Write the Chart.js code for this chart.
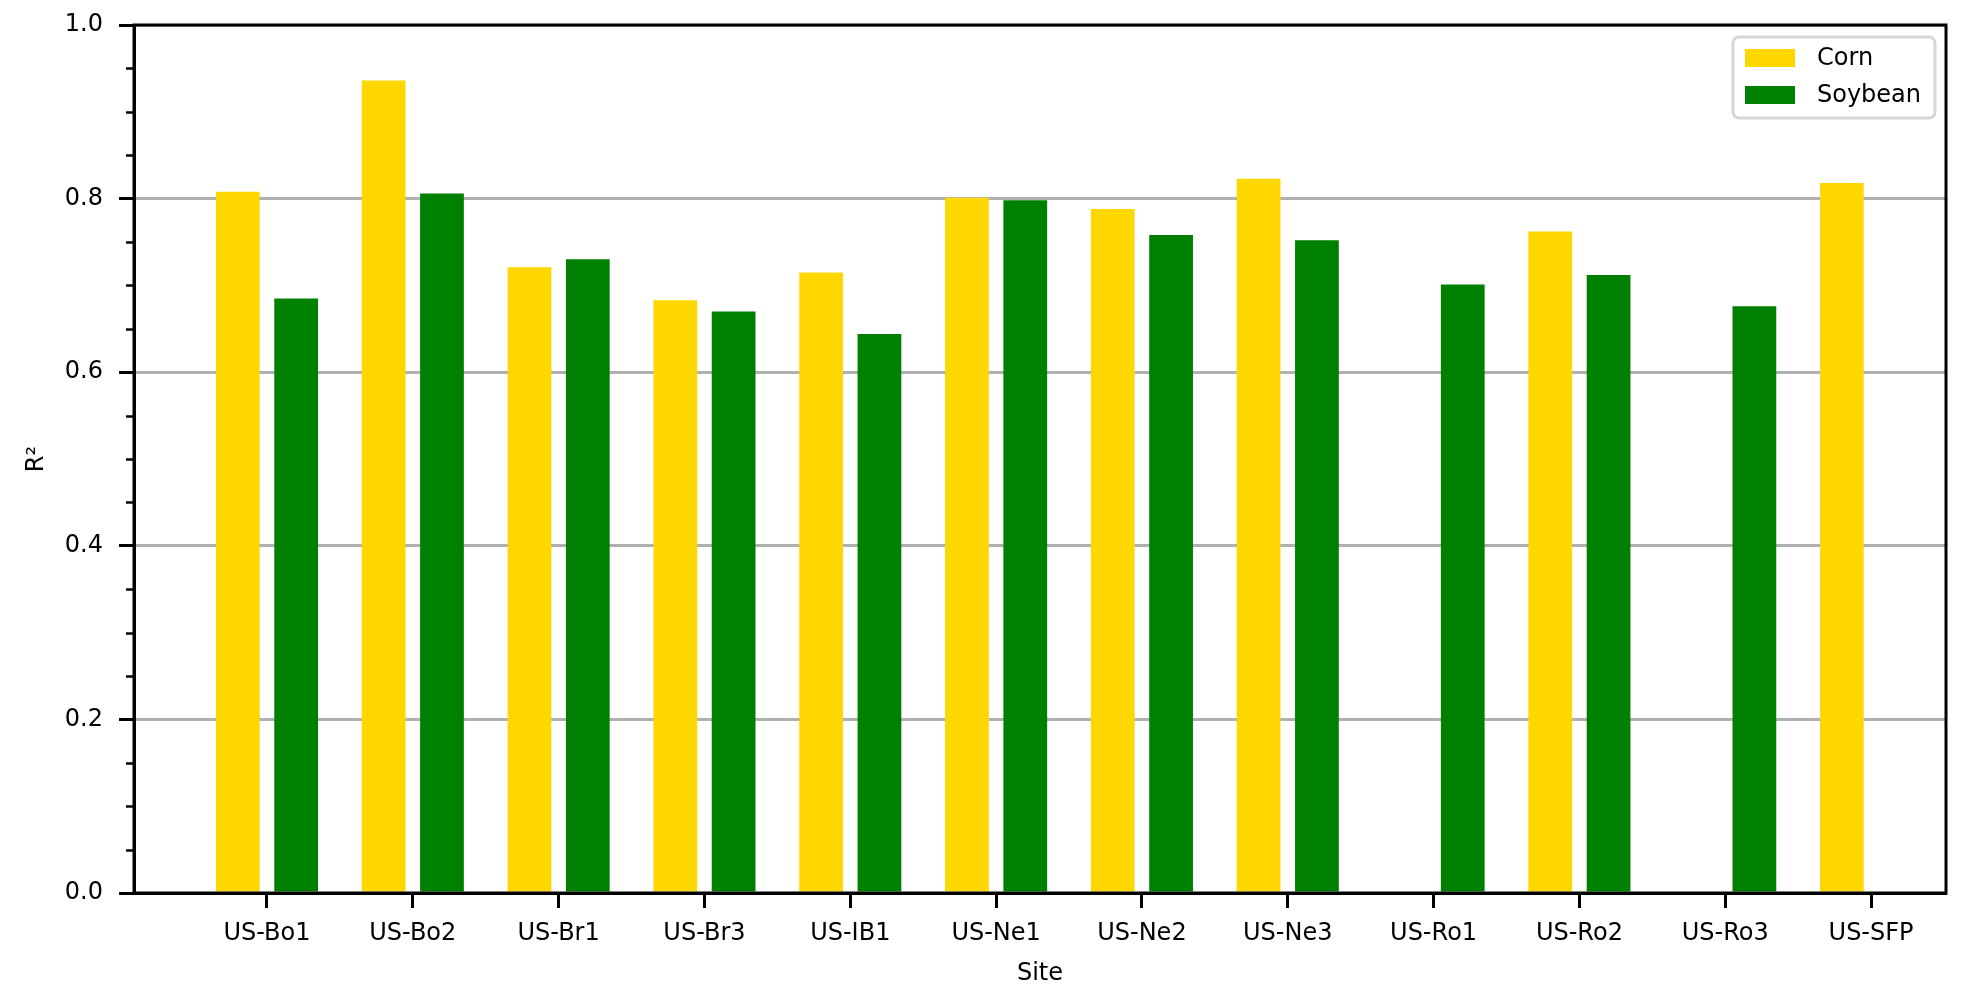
<!DOCTYPE html>
<html>
<head>
<meta charset="utf-8">
<title>R2 by site</title>
<script src="https://cdn.jsdelivr.net/npm/chart.js@4.4.1/dist/chart.umd.min.js"></script>
<style>
  html, body { margin: 0; padding: 0; background: #fff; }
  #wrap { width: 1967px; height: 1000px; }
</style>
</head>
<body>
<div id="wrap"><canvas id="r2Chart" width="1967" height="1000"></canvas></div>
<script>
// datos
const sites = ['US-Bo1', 'US-Bo2', 'US-Br1', 'US-Br3', 'US-IB1', 'US-Ne1', 'US-Ne2', 'US-Ne3', 'US-Ro1', 'US-Ro2', 'US-Ro3', 'US-SFP'];
const cornR2 = [0.808, 0.936, 0.721, 0.683, 0.715, 0.801, 0.788, 0.823, null, 0.762, null, 0.818];
const soybeanR2 = [0.685, 0.806, 0.730, 0.670, 0.644, 0.798, 0.758, 0.752, 0.701, 0.712, 0.676, null];
const yTicks = [0.0, 0.2, 0.4, 0.6, 0.8, 1.0];
const yMinorStep = 0.05;

Chart.defaults.font.family = "'DejaVu Sans', sans-serif";
Chart.defaults.font.size = 24;
Chart.defaults.color = '#000';

function toPoints(values) {
  return values.map((v, i) => ({ x: i, y: v }));
}

// marco, ticks menores y leyenda dentro del área
const extrasPlugin = {
  id: 'extras',
  afterDraw(chart) {
    const { ctx, chartArea: a } = chart;
    const y = chart.scales.y;
    ctx.save();

    // ticks menores
    ctx.strokeStyle = '#000';
    ctx.lineWidth = 2.5;
    for (let k = 0; k <= Math.round(1 / yMinorStep); k++) {
      const v = k * yMinorStep;
      if (yTicks.some(t => Math.abs(t - v) < 1e-6)) continue;
      const py = Math.round(y.getPixelForValue(v)) + 0.5;
      ctx.beginPath();
      ctx.moveTo(a.left - 8, py);
      ctx.lineTo(a.left, py);
      ctx.stroke();
    }

    // marco completo
    ctx.lineWidth = 3;
    ctx.strokeRect(a.left, a.top, a.right - a.left, a.bottom - a.top);

    // leyenda
    const boxW = 202, boxH = 81;
    const bx = a.right - 11 - boxW, by = a.top + 12;
    ctx.fillStyle = 'rgba(255,255,255,0.8)';
    ctx.strokeStyle = '#d6d6d6';
    ctx.lineWidth = 3;
    ctx.beginPath();
    ctx.roundRect(bx, by, boxW, boxH, 6);
    ctx.fill();
    ctx.stroke();
    ctx.font = "24px 'DejaVu Sans', sans-serif";
    ctx.textBaseline = 'middle';
    ctx.textAlign = 'left';
    chart.data.datasets.forEach((ds, i) => {
      const rowY = by + 21 + i * 37;
      ctx.fillStyle = ds.backgroundColor;
      ctx.fillRect(bx + 12, rowY - 9, 50, 18);
      ctx.fillStyle = '#000';
      ctx.fillText(ds.label, bx + 84, rowY + 1);
    });
    ctx.restore();
  }
};

new Chart(document.getElementById('r2Chart'), {
  type: 'bar',
  data: {
    datasets: [
      { label: 'Corn', data: toPoints(cornR2), backgroundColor: '#FFD700' },
      { label: 'Soybean', data: toPoints(soybeanR2), backgroundColor: '#008000' }
    ]
  },
  options: {
    responsive: false,
    devicePixelRatio: 1,
    animation: false,
    categoryPercentage: 0.8,
    barPercentage: 0.75,
    layout: { padding: { top: 25, right: 21, left: 0, bottom: 0 } },
    plugins: {
      legend: { display: false },
      tooltip: { enabled: false }
    },
    scales: {
      x: {
        type: 'linear',
        offset: false,
        min: -0.912,
        max: 11.514,
        afterBuildTicks(scale) {
          scale.ticks = sites.map((s, i) => ({ value: i }));
        },
        afterFit(scale) { scale.height = 107; },
        ticks: {
          autoSkip: false,
          maxRotation: 0,
          padding: 11,
          color: '#000',
          callback: value => sites[value]
        },
        grid: {
          offset: false,
          drawOnChartArea: false,
          drawTicks: true,
          tickLength: 15,
          tickWidth: 3,
          tickColor: '#000'
        },
        border: { color: '#000', width: 3 },
        title: { display: true, text: 'Site', color: '#000', padding: { top: 0, bottom: 12 } }
      },
      y: {
        min: 0,
        max: 1,
        afterBuildTicks(scale) {
          scale.ticks = yTicks.map(v => ({ value: v }));
        },
        afterFit(scale) {
          scale.width = 134;
          scale.paddingTop = 0;
          scale.paddingBottom = 0;
        },
        ticks: {
          padding: 16,
          color: '#000',
          callback: value => value.toFixed(1)
        },
        grid: {
          color: '#b0b0b0',
          lineWidth: 3,
          tickLength: 15,
          tickWidth: 3,
          tickColor: '#000'
        },
        border: { color: '#000', width: 3 },
        title: { display: true, text: 'R²', color: '#000', padding: { top: 22, bottom: 0 } }
      }
    }
  },
  plugins: [extrasPlugin]
});
</script>
</body>
</html>
